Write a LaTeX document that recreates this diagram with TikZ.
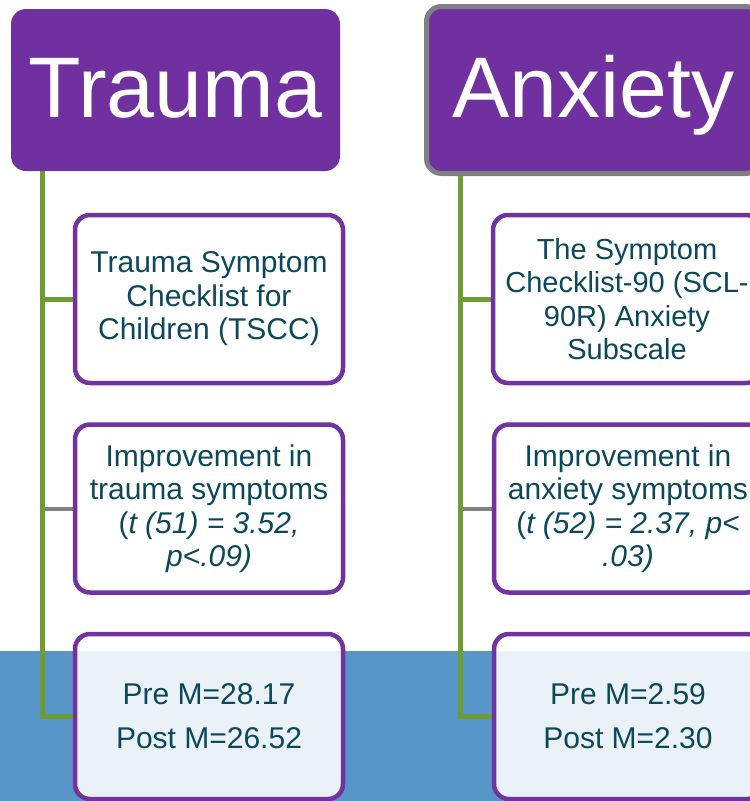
\documentclass[tikz,border=0pt]{standalone}
\usepackage{fontspec}
\setmainfont{Liberation Sans}
\definecolor{hdrpurple}{RGB}{112,48,160}
\definecolor{boxpurple}{RGB}{114,50,160}
\definecolor{hdrgray}{RGB}{128,128,132}
\definecolor{spinegreen}{RGB}{110,158,50}
\definecolor{conngray}{RGB}{128,128,128}
\definecolor{bandblue}{RGB}{88,150,201}
\definecolor{bodyteal}{RGB}{12,72,92}
\pgfdeclarelayer{band}
\pgfdeclarelayer{links}
\pgfsetlayers{band,links,main}
\begin{document}
\begin{tikzpicture}[x=1pt,y=-1pt,
  hdr/.style={fill=hdrpurple, rounded corners=15pt, text=white, inner sep=0pt,
    font=\fontsize{86}{90}\selectfont, text height=63pt, text depth=8pt},
  infobox/.style={draw=boxpurple, line width=4.5pt, fill=white, rounded corners=15pt,
    minimum width=268pt, minimum height=168pt, inner sep=0pt, align=center,
    text=bodyteal, font=\fontsize{30}{33.5}\selectfont},
  statbox/.style={infobox, fill opacity=0.88, text opacity=1, draw opacity=1,
    minimum height=165pt, font=\fontsize{30}{44}\selectfont},
  spine/.style={draw=spinegreen, line width=5pt},
  sidelink/.style={draw=conngray, line width=4pt}]
\useasboundingbox (0,0) rectangle (750,801);

% blue band along the bottom
\begin{pgfonlayer}{band}
  \fill[bandblue] (0,651) rectangle (750,801);
\end{pgfonlayer}

% column headers
\node[hdr, minimum width=329pt, minimum height=162pt] (hA) at (175.5,90) {Trauma};
\node[hdr, draw=hdrgray, line width=5pt, minimum width=334pt, minimum height=167pt]
  (hB) at (593.5,90) {Anxiety};

% trauma column
\node[infobox] (tA1) at (209,299) {Trauma Symptom\\Checklist for\\Children (TSCC)};
\node[infobox] (tA2) at (209,508.5) {Improvement in\\trauma symptoms\\(\textit{t (51) = 3.52,}\\\textit{p<.09)}};
\node[statbox] (tA3) at (209,716.5) {Pre M=28.17\\Post M=26.52};

% anxiety column
\node[infobox, font=\fontsize{29}{33.5}\selectfont] (tB1) at (627,299)
  {The Symptom\\Checklist-90 (SCL-\\90R) Anxiety\\Subscale};
\node[infobox] (tB2) at (628,508.5) {Improvement in\\anxiety symptoms\\(\textit{t (52) = 2.37, p<}\\\textit{.03)}};
\node[statbox] (tB3) at (628,716.5) {Pre M=2.59\\Post M=2.30};

% spines and branches
\coordinate (sA) at (42,171);
\coordinate (sB) at (460,174);
\begin{pgfonlayer}{links}
  \draw[spine] (sA) |- (tA3.west);
  \draw[spine] (tA1.west) -- (tA1.west -| sA);
  \draw[sidelink] (tA2.west) -- ([xshift=2.5pt]tA2.west -| sA);
  \draw[spine] (sB) |- (tB3.west);
  \draw[spine] (tB1.west) -- (tB1.west -| sB);
  \draw[sidelink] (tB2.west) -- ([xshift=2.5pt]tB2.west -| sB);
\end{pgfonlayer}
\end{tikzpicture}
\end{document}
